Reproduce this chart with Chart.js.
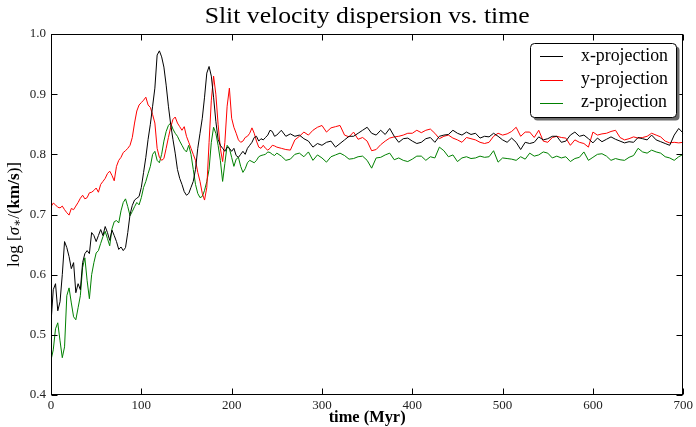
<!DOCTYPE html>
<html><head><meta charset="utf-8">
<script src="https://cdn.jsdelivr.net/npm/chart.js@4"></script>
<style>html,body{margin:0;padding:0;background:#fff;}#wrap{width:696px;height:427px;}</style>
</head><body><div id="wrap"><canvas id="c" width="696" height="427"></canvas></div>
<script>
const time = [0,2.5,5,7.5,10,12.5,15,17.5,20,22.5,25,27.5,30,32.5,35,37.5,40,42.5,45,47.5,50,52.5,55,57.5,60,62.5,65,67.5,70,72.5,75,77.5,80,82.5,85,87.5,90,92.5,95,97.5,100,102.5,105,107.5,110,112.5,115,117.5,120,122.5,125,127.5,130,132.5,135,137.5,140,142.5,145,147.5,150,152.5,155,157.5,160,162.5,165,167.5,170,172.5,175,177.5,180,182.5,185,187.5,190,192.5,195,197.5,200,202.5,205,207.5,210,212.5,215,217.5,220,222.5,225,227.5,230,232.5,235,237.5,240,242.5,245,247.5,250,
255,260,265,270,275,280,285,290,295,300,305,310,315,320,325,330,335,340,345,350,355,360,365,370,375,380,385,390,395,400,405,410,415,420,425,430,435,440,445,450,455,460,465,470,475,480,485,490,495,500,505,510,515,520,525,530,535,540,545,550,555,560,565,570,575,580,585,590,595,600,605,610,615,620,625,630,635,640,645,650,655,660,665,670,675,680,685,690,695,700];

const xProjection = [0.52,0.575,0.585,0.54,0.555,0.60,0.655,0.645,0.63,0.61,
0.62,0.57,0.585,0.575,0.62,0.635,0.64,0.635,0.67,0.665,
0.655,0.665,0.675,0.665,0.68,0.67,0.657,0.674,0.665,0.655,
0.642,0.646,0.64,0.645,0.67,0.70,0.715,0.724,0.727,0.73,
0.745,0.77,0.795,0.825,0.85,0.88,0.91,0.965,0.972,0.962,
0.945,0.915,0.88,0.85,0.825,0.802,0.775,0.76,0.75,0.738,
0.732,0.735,0.745,0.755,0.775,0.81,0.835,0.86,0.895,0.935,
0.946,0.93,0.895,0.855,0.825,0.815,0.81,0.805,0.812,0.81,
0.805,0.81,0.798,0.795,0.80,0.805,0.80,0.81,0.815,0.82,
0.828,0.83,0.822,0.826,0.824,0.828,0.832,0.84,0.838,0.83,0.832,
0.84,0.83,0.834,0.83,0.832,0.826,0.822,0.812,0.818,0.815,
0.82,0.822,0.812,0.818,0.824,0.83,0.83,0.835,0.84,0.845,
0.835,0.832,0.84,0.833,0.843,0.83,0.82,0.826,0.827,0.822,
0.818,0.82,0.826,0.828,0.82,0.83,0.832,0.833,0.84,0.835,
0.832,0.837,0.833,0.835,0.827,0.83,0.829,0.835,0.83,0.824,
0.82,0.827,0.82,0.808,0.82,0.818,0.82,0.829,0.824,0.826,
0.83,0.83,0.82,0.822,0.832,0.837,0.83,0.832,0.826,0.819,
0.827,0.821,0.825,0.829,0.825,0.822,0.819,0.821,0.82,0.828,
0.826,0.824,0.832,0.824,0.821,0.818,0.815,0.832,0.843,0.835];

const yProjection = [0.713,0.719,0.716,0.712,0.711,0.714,0.708,0.703,0.699,0.71,
0.708,0.714,0.72,0.727,0.732,0.726,0.728,0.736,0.737,0.74,
0.744,0.737,0.75,0.755,0.76,0.768,0.772,0.765,0.756,0.78,
0.79,0.795,0.803,0.806,0.81,0.815,0.828,0.852,0.872,0.882,
0.886,0.89,0.895,0.882,0.878,0.866,0.852,0.81,0.795,0.79,
0.793,0.81,0.828,0.845,0.858,0.862,0.852,0.846,0.84,0.846,
0.83,0.82,0.81,0.80,0.79,0.77,0.755,0.735,0.724,0.745,
0.82,0.89,0.93,0.90,0.85,0.81,0.788,0.82,0.88,0.91,
0.86,0.845,0.835,0.824,0.82,0.822,0.828,0.83,0.835,0.844,
0.835,0.822,0.812,0.81,0.815,0.81,0.807,0.81,0.815,0.814,0.812,
0.81,0.808,0.807,0.824,0.83,0.837,0.832,0.84,0.845,0.848,
0.837,0.844,0.846,0.848,0.832,0.829,0.837,0.825,0.828,0.822,
0.806,0.808,0.816,0.822,0.827,0.829,0.83,0.832,0.835,0.835,
0.84,0.836,0.84,0.842,0.835,0.826,0.83,0.832,0.827,0.824,
0.82,0.828,0.826,0.824,0.82,0.818,0.82,0.83,0.835,0.832,
0.834,0.838,0.845,0.83,0.837,0.837,0.828,0.84,0.822,0.82,
0.828,0.83,0.828,0.827,0.815,0.824,0.82,0.818,0.812,0.837,
0.832,0.834,0.835,0.838,0.84,0.828,0.824,0.826,0.829,0.827,
0.828,0.83,0.835,0.832,0.829,0.822,0.819,0.82,0.819,0.82];

const zProjection = [0.458,0.475,0.51,0.52,0.49,0.462,0.48,0.565,0.578,0.553,
0.53,0.525,0.545,0.565,0.612,0.628,0.59,0.56,0.60,0.62,
0.636,0.64,0.652,0.663,0.672,0.66,0.648,0.676,0.688,0.69,
0.686,0.706,0.72,0.726,0.713,0.698,0.705,0.713,0.72,0.716,
0.728,0.745,0.755,0.768,0.78,0.80,0.805,0.79,0.786,0.80,
0.822,0.838,0.848,0.852,0.842,0.835,0.83,0.822,0.815,0.808,
0.804,0.815,0.80,0.775,0.75,0.735,0.728,0.73,0.74,0.755,
0.775,0.82,0.845,0.835,0.815,0.79,0.755,0.785,0.815,0.81,
0.795,0.78,0.792,0.795,0.78,0.77,0.776,0.786,0.79,0.788,
0.786,0.79,0.796,0.798,0.799,0.80,0.804,0.803,0.80,0.798,0.802,
0.797,0.79,0.792,0.80,0.802,0.796,0.804,0.79,0.799,0.794,
0.787,0.796,0.799,0.802,0.798,0.792,0.793,0.796,0.797,0.79,
0.777,0.794,0.795,0.799,0.802,0.791,0.794,0.79,0.788,0.792,
0.797,0.797,0.79,0.796,0.794,0.812,0.806,0.796,0.799,0.788,
0.794,0.796,0.793,0.794,0.797,0.795,0.796,0.806,0.787,0.794,
0.793,0.792,0.79,0.796,0.792,0.802,0.797,0.799,0.804,0.802,
0.794,0.797,0.794,0.796,0.788,0.793,0.795,0.804,0.79,0.795,
0.80,0.801,0.797,0.79,0.793,0.791,0.79,0.795,0.798,0.81,
0.804,0.802,0.807,0.804,0.802,0.796,0.794,0.79,0.796,0.80];

const seriesNames = ['x-projection', 'y-projection', 'z-projection'];
const seriesColors = ['#000000', '#ff0000', '#008000'];
const chartTitle = 'Slit velocity dispersion vs. time';
const xAxisLabel = 'time (Myr)';
const xRange = [0, 700];
const yRange = [0.4, 1.0];

const SERIF = '"Liberation Serif", "DejaVu Serif", serif';

function pts(vals) { return vals.map((v, i) => ({ x: time[i], y: v })); }

function fitFont(ctx, text, style, base, targetW) {
  ctx.font = style + ' ' + base + 'px ' + SERIF;
  const w = ctx.measureText(text).width;
  return base * targetW / w;
}

const decor = {
  id: 'decor',
  afterDraw(chart) {
    const ctx = chart.ctx, a = chart.chartArea;
    const xs = chart.scales.x, ys = chart.scales.y;
    ctx.save();
    // frame
    ctx.strokeStyle = '#000'; ctx.lineWidth = 1;
    const L = Math.round(a.left) + 0.5, R = Math.round(a.right) - 0.5;
    const T = Math.round(a.top) + 0.5, B = Math.round(a.bottom) - 0.5;
    ctx.strokeRect(L, T, R - L, B - T);
    // inward ticks
    ctx.beginPath();
    xs.ticks.forEach(t => {
      const px = Math.round(xs.getPixelForValue(t.value)) + 0.5;
      ctx.moveTo(px, B); ctx.lineTo(px, B - 6);
      ctx.moveTo(px, T); ctx.lineTo(px, T + 6);
    });
    ys.ticks.forEach(t => {
      const py = Math.round(ys.getPixelForValue(t.value)) + 0.5;
      ctx.moveTo(L, py); ctx.lineTo(L + 6, py);
      ctx.moveTo(R, py); ctx.lineTo(R - 6, py);
    });
    ctx.stroke();

    // title (wide serif look)
    const cx = (a.left + a.right) / 2;
    ctx.font = '23px ' + SERIF;
    const tw = ctx.measureText(chartTitle).width;
    ctx.save();
    ctx.translate(cx, 17);
    ctx.scale(325 / tw, 1);
    ctx.fillStyle = '#000'; ctx.textAlign = 'center'; ctx.textBaseline = 'middle';
    ctx.fillText(chartTitle, 0, 0);
    ctx.restore();

    // x label
    const xl = fitFont(ctx, xAxisLabel, 'bold', 14, 77);
    ctx.font = 'bold ' + xl + 'px ' + SERIF;
    ctx.fillStyle = '#000'; ctx.textAlign = 'center'; ctx.textBaseline = 'middle';
    ctx.fillText(xAxisLabel, cx, 418);

    // y label (rotated, mixed styles)
    const pieces = [
      { t: 'log [', s: '', k: 1, dy: 0 },
      { t: 'σ', s: 'italic', k: 1, dy: 0 },
      { t: '∗', s: '', k: 0.7, dy: 3 },
      { t: '/(', s: '', k: 1, dy: 0 },
      { t: 'km/s', s: 'bold', k: 1, dy: 0 },
      { t: ')]', s: '', k: 1, dy: 0 }
    ];
    const base = 13;
    let tot = 0;
    pieces.forEach(p => { ctx.font = p.s + ' ' + (base * p.k) + 'px ' + SERIF; p.w = ctx.measureText(p.t).width; tot += p.w; });
    const sc = 105 / tot;
    ctx.save();
    ctx.translate(15, (a.top + a.bottom) / 2);
    ctx.rotate(-Math.PI / 2);
    ctx.textAlign = 'left'; ctx.textBaseline = 'middle';
    let xx = -tot * sc / 2;
    pieces.forEach(p => {
      ctx.font = p.s + ' ' + (base * p.k * sc) + 'px ' + SERIF;
      ctx.fillText(p.t, xx, p.dy);
      xx += p.w * sc;
    });
    ctx.restore();

    // legend
    const bx = 530, by = 43, bw = 146, bh = 74, r = 4;
    function rr(x, y) {
      ctx.beginPath();
      ctx.moveTo(x + r, y); ctx.lineTo(x + bw - r, y); ctx.arcTo(x + bw, y, x + bw, y + r, r);
      ctx.lineTo(x + bw, y + bh - r); ctx.arcTo(x + bw, y + bh, x + bw - r, y + bh, r);
      ctx.lineTo(x + r, y + bh); ctx.arcTo(x, y + bh, x, y + bh - r, r);
      ctx.lineTo(x, y + r); ctx.arcTo(x, y, x + r, y, r); ctx.closePath();
    }
    rr(bx + 3.5, by + 3.5); ctx.fillStyle = '#6a6a6a'; ctx.fill();
    rr(bx + 0.5, by + 0.5); ctx.fillStyle = '#fff'; ctx.fill();
    ctx.strokeStyle = '#000'; ctx.lineWidth = 1; ctx.stroke();
    const ls = fitFont(ctx, seriesNames[0], '', 15, 87);
    ctx.font = ls + 'px ' + SERIF;
    ctx.textAlign = 'left'; ctx.textBaseline = 'middle';
    const rows = [56, 79.5, 102.5];
    chart.data.datasets.forEach((d, i) => {
      ctx.strokeStyle = d.borderColor; ctx.lineWidth = 1;
      ctx.beginPath(); ctx.moveTo(540, Math.round(rows[i]) + 0.5); ctx.lineTo(563, Math.round(rows[i]) + 0.5); ctx.stroke();
      ctx.fillStyle = '#000';
      ctx.fillText(d.label, 581, rows[i]);
    });
    ctx.restore();
  }
};

new Chart(document.getElementById('c'), {
  type: 'line',
  data: {
    datasets: [
      { label: seriesNames[0], data: pts(xProjection), borderColor: seriesColors[0] },
      { label: seriesNames[1], data: pts(yProjection), borderColor: seriesColors[1] },
      { label: seriesNames[2], data: pts(zProjection), borderColor: seriesColors[2] }
    ].map(d => Object.assign(d, { borderWidth: 1, pointRadius: 0, tension: 0, fill: false }))
  },
  options: {
    responsive: false, animation: false, devicePixelRatio: 1,
    layout: { padding: { top: 34, right: 11, left: 0, bottom: 0 } },
    plugins: { legend: { display: false }, title: { display: false }, tooltip: { enabled: false } },
    scales: {
      x: {
        type: 'linear', min: xRange[0], max: xRange[1],
        ticks: { stepSize: 100, autoSkip: false, maxRotation: 0, padding: 3, color: '#222', font: { family: SERIF, size: 13 } },
        grid: { display: false, drawTicks: false }, border: { display: false },
        afterFit(s) { s.height = 32; }
      },
      y: {
        type: 'linear', min: yRange[0], max: yRange[1],
        ticks: { stepSize: 0.1, padding: 5, color: '#222', font: { family: SERIF, size: 13 }, callback: v => v.toFixed(1) },
        grid: { display: false, drawTicks: false }, border: { display: false },
        afterFit(s) { s.width = 51; }
      }
    }
  },
  plugins: [decor]
});
</script></body></html>
